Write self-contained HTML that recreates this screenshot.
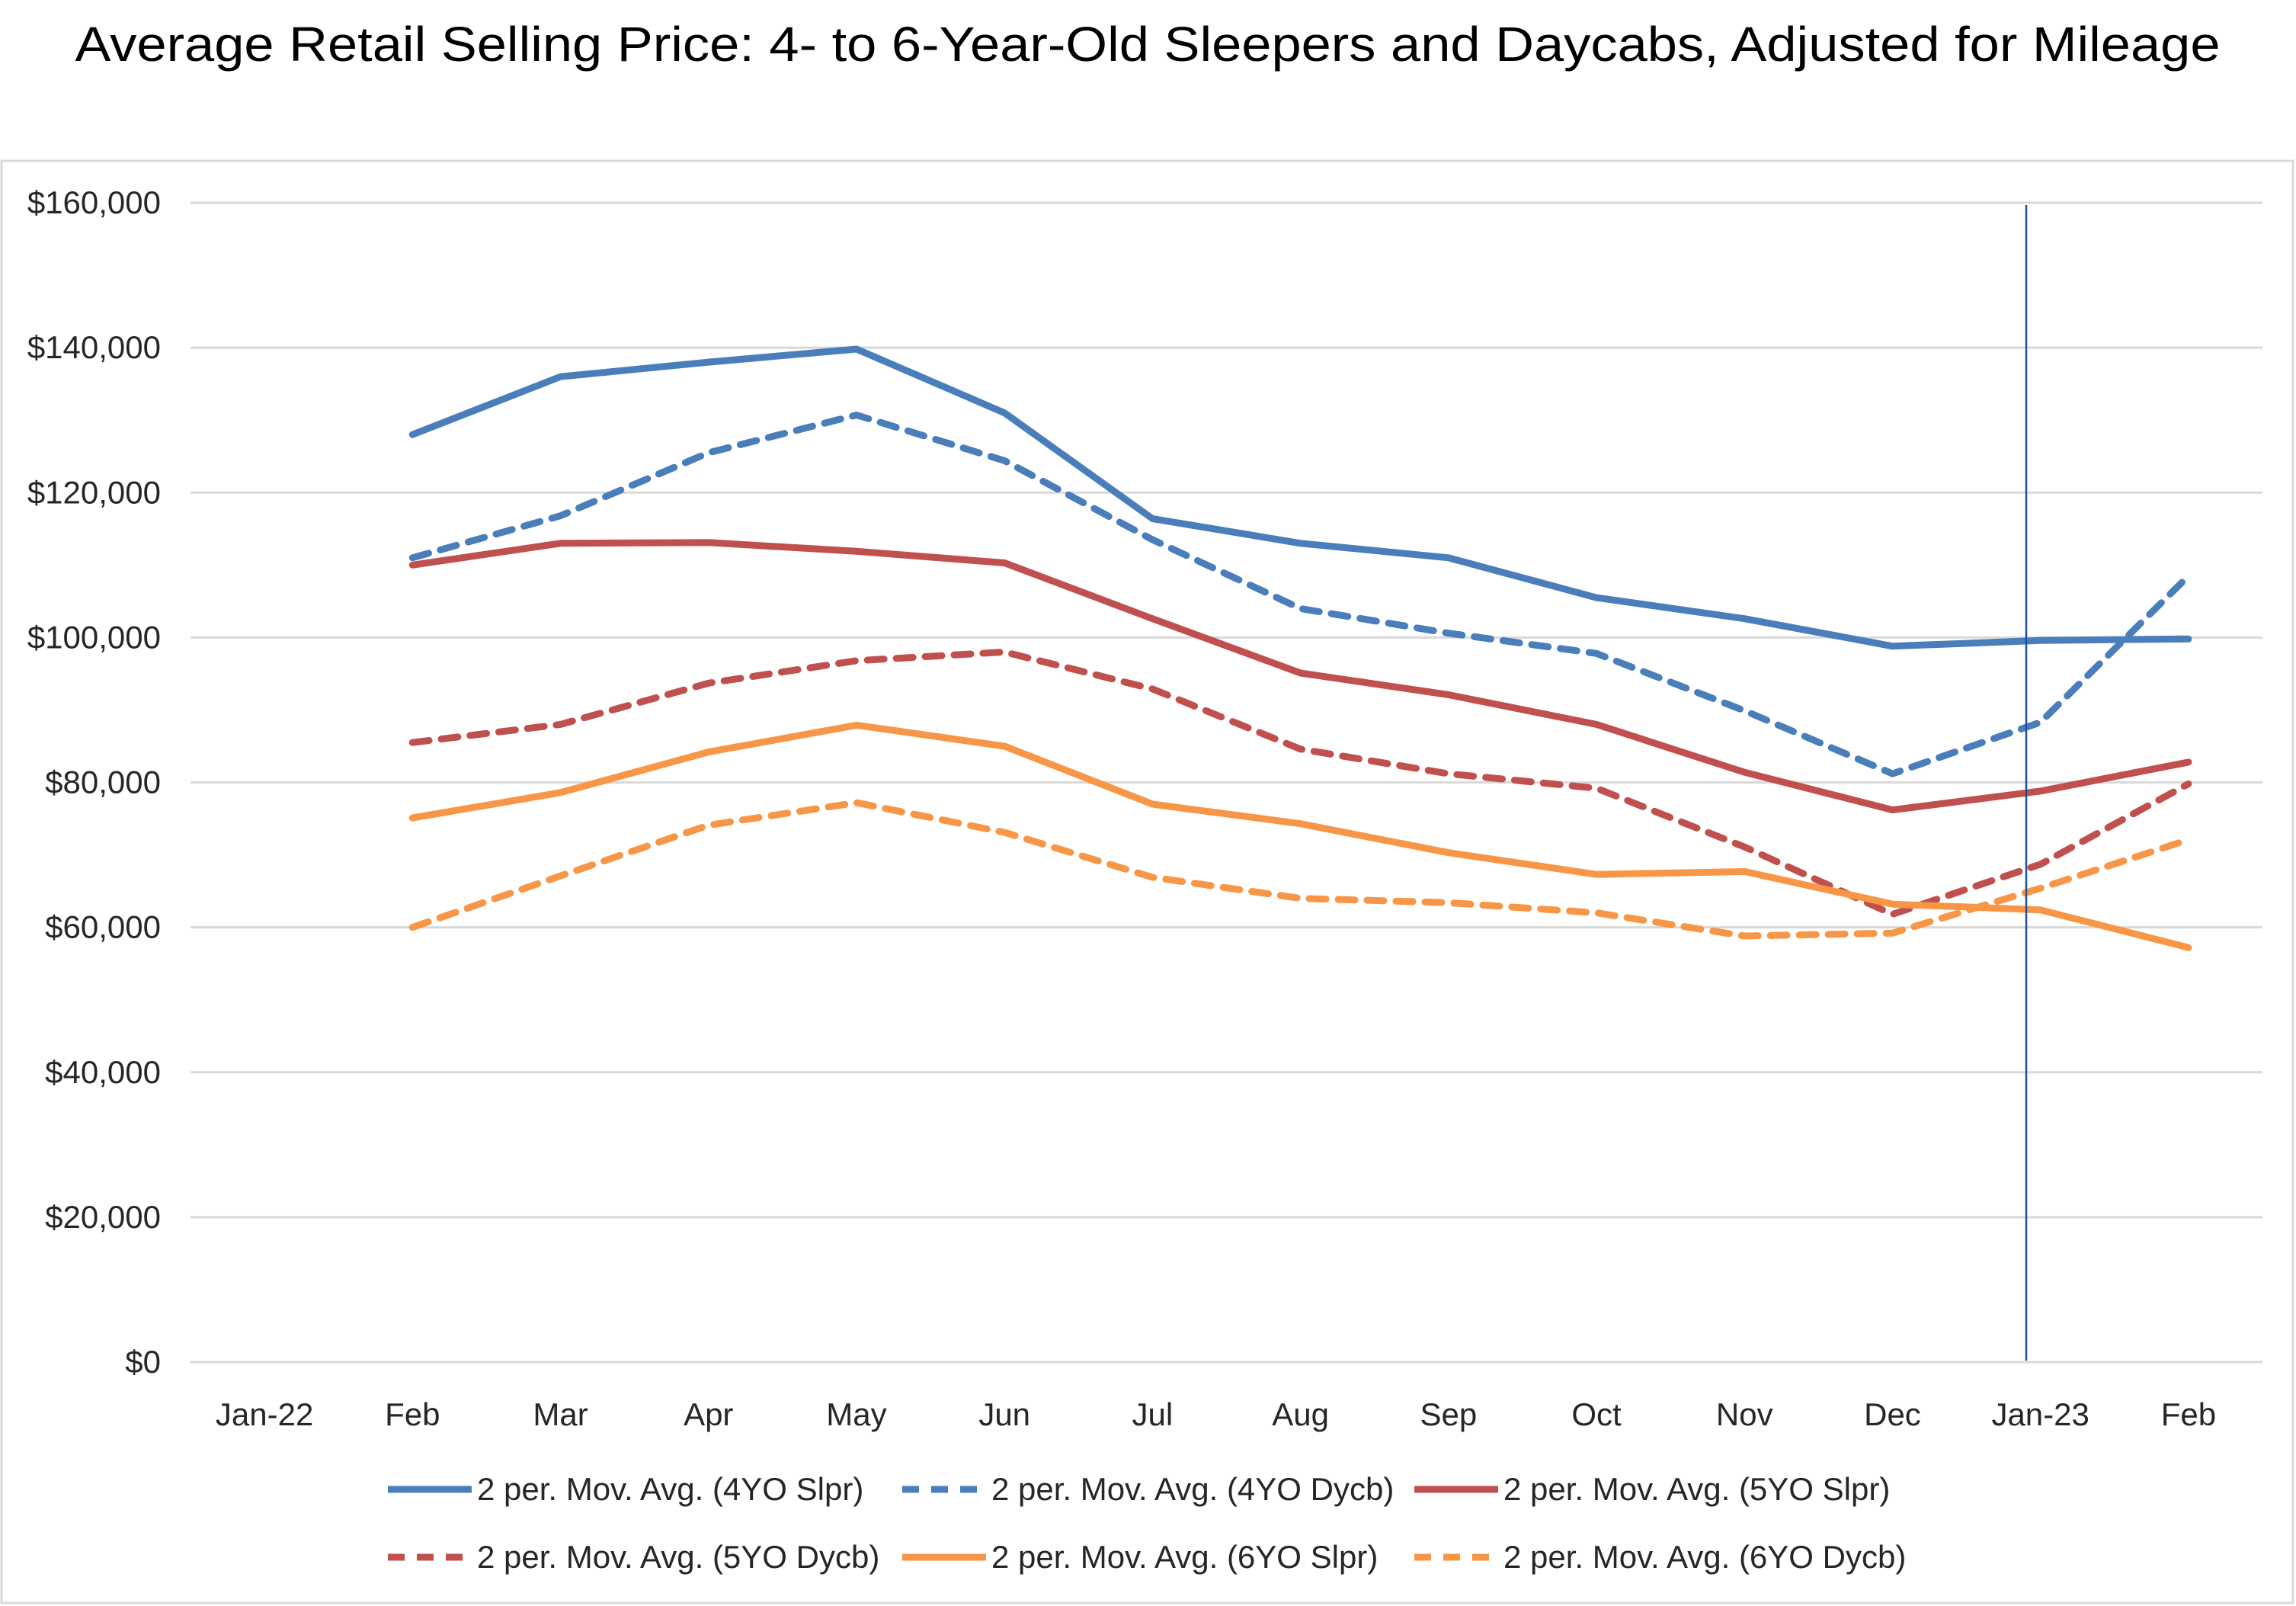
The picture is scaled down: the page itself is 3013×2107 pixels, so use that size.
<!DOCTYPE html>
<html><head><meta charset="utf-8"><style>
html,body{margin:0;padding:0;background:#fff;}
svg{display:block;}
text{font-family:"Liberation Sans Narrow","Liberation Sans",sans-serif;fill:#262626;}
</style></head><body>
<svg id="chart" width="3013" height="2107" viewBox="0 0 3013 2107">
<text x="1506" y="80" text-anchor="middle" font-size="64" textLength="2815" lengthAdjust="spacingAndGlyphs" style="font-family:'Liberation Sans',sans-serif;fill:#000">Average Retail Selling Price: 4- to 6-Year-Old Sleepers and Daycabs, Adjusted for Mileage</text>
<rect x="2" y="211" width="3007" height="1892" fill="none" stroke="#d9d9d9" stroke-width="3"/>
<g id="grid"></g><g id="ylabels"></g><g id="xlabels"></g><g id="series"></g><g id="legend"></g>
<line x1="2659" y1="269" x2="2659" y2="1785" stroke="#1f4e9a" stroke-width="2.5"/>
</svg>
<script>
const categories=["Jan-22","Feb","Mar","Apr","May","Jun","Jul","Aug","Sep","Oct","Nov","Dec","Jan-23","Feb"];
const yTicks=[0,20000,40000,60000,80000,100000,120000,140000,160000];
const yTickLabels=["$0","$20,000","$40,000","$60,000","$80,000","$100,000","$120,000","$140,000","$160,000"];
const slpr4=[null,128000,136000,138000,139800,131000,116400,113000,111000,105500,102600,98800,99600,99800];
const dycb4=[null,111000,116800,125500,130700,124400,113500,104000,100600,97800,89900,81200,88300,108500];
const slpr5=[null,110000,113000,113100,111900,110300,102600,95100,92100,88000,81400,76200,78800,82800];
const dycb5=[null,85500,88000,93700,96800,98000,92900,84600,81200,79200,71100,61800,68700,79800];
const slpr6=[null,75100,78600,84200,87900,85000,77000,74300,70300,67300,67700,63200,62400,57200];
const dycb6=[null,60000,67100,74100,77200,73100,66900,64000,63400,62000,58800,59200,65400,72100];
const seriesNames=["2 per. Mov. Avg. (4YO Slpr)","2 per. Mov. Avg. (4YO Dycb)","2 per. Mov. Avg. (5YO Slpr)","2 per. Mov. Avg. (5YO Dycb)","2 per. Mov. Avg. (6YO Slpr)","2 per. Mov. Avg. (6YO Dycb)"];
const NS="http://www.w3.org/2000/svg";
const X0=250,X1=2969,Y0=1787,Y1=266,YMAX=160000;
function mk(tag,attrs,parent){const e=document.createElementNS(NS,tag);for(const k in attrs)e.setAttribute(k,attrs[k]);parent.appendChild(e);return e;}
function ys(v){return Y0-(v/YMAX)*(Y0-Y1);}
const grid=document.getElementById('grid'),yl=document.getElementById('ylabels'),xl=document.getElementById('xlabels'),sg=document.getElementById('series'),lg=document.getElementById('legend');
const n=categories.length;
const bw=(X1-X0)/n;
function xs(i){return X0+bw*(i+0.5);}
yTicks.forEach((t,i)=>{
  const l=mk('line',{x1:X0,x2:X1,y1:ys(t),y2:ys(t),stroke:'#d9d9d9','stroke-width':3},grid);
  
  
  const tx=mk('text',{x:211,y:ys(t)+14,'text-anchor':'end','font-size':42},yl);
  tx.textContent=yTickLabels[i];
  
  
});
categories.forEach((c,i)=>{
  const t=mk('text',{x:xs(i),y:1870,'text-anchor':'middle','font-size':42},xl);
  t.textContent=c;
  
  
});
const all=[slpr4,dycb4,slpr5,dycb5,slpr6,dycb6];
const colors=['#4a7ebb','#4a7ebb','#c0504d','#c0504d','#f79646','#f79646'];
const dashed=[false,true,false,true,false,true];
const keys=['4yo-sleeper','4yo-daycab','5yo-sleeper','5yo-daycab','6yo-sleeper','6yo-daycab'];
all.forEach((arr,si)=>{
  let d='';
  arr.forEach((v,i)=>{if(v==null)return;d+=(d?'L':'M')+xs(i).toFixed(1)+' '+ys(v).toFixed(1);});
  const p=mk('path',{d:d,fill:'none',stroke:colors[si],'stroke-width':9,'stroke-linejoin':'round','stroke-linecap':'round'},sg);
  if(dashed[si])p.setAttribute('stroke-dasharray','22 16');
  
  
});
const lx=[509,1184,1856],ly=[1954,2043];
seriesNames.forEach((nm,i)=>{
  const r=Math.floor(i/3),c=i%3;
  const g=mk('g',{},lg);
  
  
  const l=mk('line',{x1:lx[c],x2:lx[c]+110,y1:ly[r],y2:ly[r],stroke:colors[i],'stroke-width':9},g);
  if(dashed[i])l.setAttribute('stroke-dasharray','22 16');
  const t=mk('text',{x:lx[c]+117,y:ly[r]+14,'font-size':42},g);
  t.textContent=nm;
});
</script>
</body></html>
